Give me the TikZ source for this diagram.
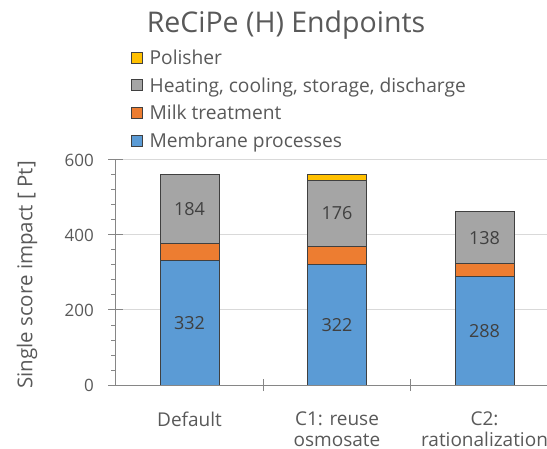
\documentclass[tikz,border=0pt]{standalone}
\usepackage{fontspec}
\setmainfont{Open Sans}
\usepackage{xcolor}
\usetikzlibrary{positioning}

\definecolor{membraneblue}{HTML}{5B9BD5}
\definecolor{milkorange}{HTML}{ED7D31}
\definecolor{heatgray}{HTML}{A5A5A5}
\definecolor{polishyellow}{HTML}{FFC000}
\definecolor{textgray}{HTML}{595959}
\definecolor{gridgray}{HTML}{D9D9D9}
\definecolor{axisgray}{HTML}{868686}

\begin{document}
\begin{tikzpicture}[x=1pt, y=1pt,
        % Define styles for the chart parts
        segment/.style={draw=black!75, line width=1pt},
        membrane/.style={segment, fill=membraneblue},
        milk/.style={segment, fill=milkorange},
        heating/.style={segment, fill=heatgray},
        polisher/.style={segment, fill=polishyellow},
        gridline/.style={draw=gridgray, line width=1pt},
        axisline/.style={draw=axisgray, line width=1pt},
        ticklabel/.style={anchor=east, inner sep=0pt, text=textgray, font=\fontsize{17}{20}\selectfont},
        vallabel/.style={inner sep=0pt, text=black!75, font=\fontsize{18}{20}\selectfont},
        catlabel/.style={anchor=north, inner sep=0pt, align=center, text=textgray, font=\fontsize{19}{21}\selectfont},
        legbox/.style={draw=black!75, line width=0.8pt, minimum size=11pt, inner sep=0pt},
        legtext/.style={inner sep=0pt, text height=13.5pt, text depth=0pt, text=textgray, font=\fontsize{19.2}{22}\selectfont}
    ]
    \useasboundingbox (0,0) rectangle (547,448);

    % Title
    \node[anchor=base, text=textgray, font=\fontsize{28.5}{32}\selectfont] (title) at (286,415) {ReCiPe (H) Endpoints};

    % Legend
    \node[legbox, fill=polishyellow] (legpol) at (136.5,390.5) {};
    \node[legbox, fill=heatgray, below=16pt of legpol] (legheat) {};
    \node[legbox, fill=milkorange, below=16pt of legheat] (legmilk) {};
    \node[legbox, fill=membraneblue, below=16pt of legmilk] (legmem) {};
    \node[legtext, right=7pt of legpol] (txtpol) {Polisher};
    \node[legtext, right=7pt of legheat] (txtheat) {Heating, cooling, storage, discharge};
    \node[legtext, right=7pt of legmilk] (txtmilk) {Milk treatment};
    \node[legtext, right=7pt of legmem] (txtmem) {Membrane processes};

    % Plot area, y in Pt
    \begin{scope}[shift={(0,63)}, y=0.375pt]
        % Grid lines
        \foreach \v in {200,400,600}
            \draw[gridline] (115.7,\v) -- (547,\v);

        % Stacked bars
        \draw[membrane] (160,0) rectangle (219,332);
        \draw[milk] (160,332) rectangle (219,377);
        \draw[heating] (160,377) rectangle (219,561);

        \draw[membrane] (307.5,0) rectangle (366.5,322);
        \draw[milk] (307.5,322) rectangle (366.5,370);
        \draw[heating] (307.5,370) rectangle (366.5,546);
        \draw[polisher] (307.5,546) rectangle (366.5,562);

        \draw[membrane] (455,0) rectangle (514,288);
        \draw[milk] (455,288) rectangle (514,324);
        \draw[heating] (455,324) rectangle (514,462);

        % Axes and ticks
        \draw[axisline] (115.7,0) -- (115.7,600);
        \draw[axisline] (115.7,0) -- (547,0);
        \foreach \v in {40,80,...,560}
            \draw[axisline] (111,\v) -- (115.7,\v);
        \foreach \v in {0,200,400,600}
            \draw[axisline] (108,\v) -- (123,\v);
        \foreach \x in {263.4,410.7}
            \draw[axisline] (\x,-16) -- (\x,16);

        % Tick labels
        \node[ticklabel] (y0) at (94,0) {0};
        \node[ticklabel] (y200) at (94,200) {200};
        \node[ticklabel] (y400) at (94,400) {400};
        \node[ticklabel] (y600) at (94,600) {600};

        % Value labels
        \node[vallabel] (defmem) at (189.5,166) {332};
        \node[vallabel] (defheat) at (189.5,469) {184};
        \node[vallabel] (reumem) at (337,161) {322};
        \node[vallabel] (reuheat) at (337,458) {176};
        \node[vallabel] (ratmem) at (484.5,144) {288};
        \node[vallabel] (ratheat) at (484.5,393) {138};
    \end{scope}

    % Category labels
    \node[catlabel] (catdef) at (189.5,36.5) {Default};
    \node[catlabel] (catreu) at (337,36.5) {C1: reuse\\osmosate};
    \node[catlabel] (catrat) at (484.5,36.5) {C2:\\rationalization};

    % Axis title
    \node[rotate=90, text=textgray, font=\fontsize{20.5}{24}\selectfont] (ylabel) at (27,173) {Single score impact [ Pt]};
\end{tikzpicture}
\end{document}
